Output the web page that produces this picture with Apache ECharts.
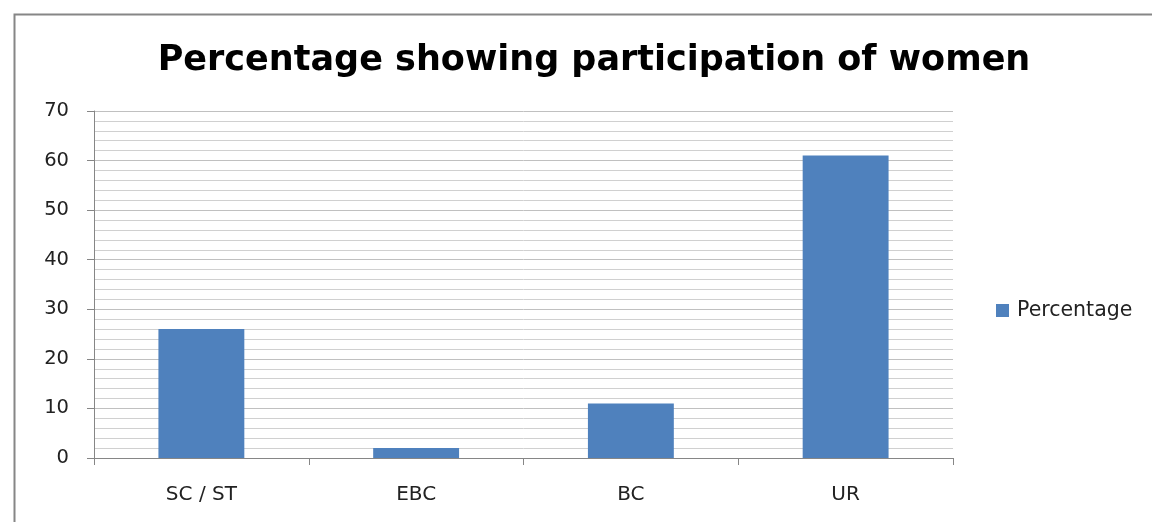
<!DOCTYPE html>
<html>
<head>
<meta charset="utf-8">
<script src="https://cdn.jsdelivr.net/npm/echarts@6/dist/echarts.min.js"></script>
<style>
html,body{margin:0;padding:0;background:#fff;}
#c{width:1152px;height:522px;}
</style>
</head>
<body>
<div id="c"></div>
<script>
const titleText = "Percentage showing participation of women";
const categories = ["SC / ST", "EBC", "BC", "UR"];
const seriesName = "Percentage";
const values = [26, 2, 11, 61];
const yMin = 0, yMax = 70, yInterval = 10;

const chart = echarts.init(document.getElementById('c'), null, {renderer: 'canvas'});
chart.setOption({
  animation: false,
  backgroundColor: '#fff',
  title: {
    text: titleText,
    left: 589, top: 38, textAlign: 'center',
    textStyle: {fontFamily: 'DejaVu Sans', fontWeight: 'bold', fontSize: 35, color: '#000'}
  },
  legend: {
    data: [seriesName],
    left: 991, top: 295,
    icon: 'rect', itemWidth: 13, itemHeight: 13, itemGap: 5,
    textStyle: {fontFamily: 'DejaVu Sans', fontSize: 20.5, color: '#222', padding: [0,0,0,3]}
  },
  grid: {left: 94, right: 199, top: 111, bottom: 64, containLabel: false},
  xAxis: {
    type: 'category', data: categories,
    axisLine: {lineStyle: {color: '#868686', width: 1}},
    axisTick: {show: true, length: 7, inside: false, alignWithLabel: false, lineStyle: {color: '#868686'}},
    axisLabel: {fontFamily: 'DejaVu Sans', fontSize: 20, color: '#222', margin: 27},
    splitLine: {show: false}
  },
  yAxis: {
    type: 'value', min: yMin, max: yMax, interval: yInterval,
    axisLine: {show: true, lineStyle: {color: '#868686', width: 1}},
    axisTick: {show: true, length: 7, lineStyle: {color: '#868686'}},
    axisLabel: {fontFamily: 'DejaVu Sans', fontSize: 19.5, color: '#222', margin: 25},
    splitLine: {show: true, lineStyle: {color: '#c0c0c0', width: 1}},
    minorTick: {show: false, splitNumber: 5},
    minorSplitLine: {show: true, lineStyle: {color: '#d0d0d0', width: 1}}
  },
  series: [{
    name: seriesName, type: 'bar', data: values,
    barWidth: '40%',
    itemStyle: {color: '#4f81bd'}
  }],
  graphic: [{
    type: 'rect', left: 12, top: 12, silent: true,
    shape: {width: 1160, height: 540},
    style: {fill: 'none', stroke: '#868686', lineWidth: 2}
  }]
});
</script>
</body>
</html>
